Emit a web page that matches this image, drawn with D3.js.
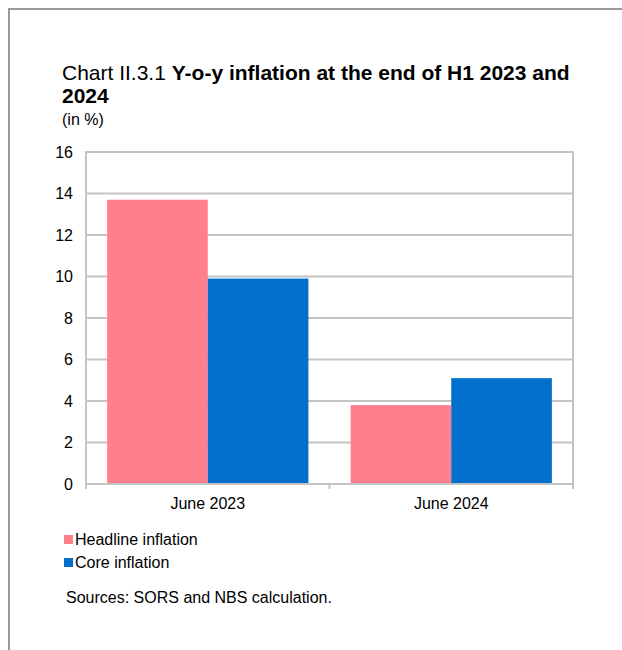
<!DOCTYPE html>
<html>
<head>
<meta charset="utf-8">
<script src="https://cdn.jsdelivr.net/npm/d3@7"></script>
<style>
  html, body { margin: 0; padding: 0; background: #fff; }
  svg { display: block; font-family: "Liberation Sans", Arial, sans-serif; }
</style>
</head>
<body>
<svg id="chart" width="622" height="650"></svg>
<script>
// Y-o-y inflation at the end of H1, by measure
const categories = ["June 2023", "June 2024"];
const seriesNames = ["Headline inflation", "Core inflation"];
const headline = [13.7, 3.8];
const core = [9.9, 5.1];
const yTicks = [0, 2, 4, 6, 8, 10, 12, 14, 16];
const colors = ["#ff7f8c", "#0070cc"];

const svg = d3.select("#chart");

// page frame
svg.append("path")
  .attr("d", "M9,650 V9 H622")
  .attr("fill", "none")
  .attr("stroke", "#9a9a9a")
  .attr("stroke-width", 2);

// title block
const title = svg.append("text").attr("x", 62).attr("y", 80)
  .attr("font-size", 21).attr("fill", "#000");
title.append("tspan").text("Chart II.3.1 ");
title.append("tspan").attr("font-weight", "bold").text("Y-o-y inflation at the end of H1 2023 and");
svg.append("text").attr("x", 62).attr("y", 103)
  .attr("font-size", 21).attr("font-weight", "bold").text("2024");
svg.append("text").attr("x", 62).attr("y", 125)
  .attr("font-size", 16).text("(in %)");

const plot = { left: 86, right: 573, top: 152, bottom: 484 };

const x0 = d3.scaleBand().domain(categories)
  .range([plot.left, plot.right]).paddingInner(0).paddingOuter(0);
const x1 = d3.scaleBand().domain(seriesNames)
  .range([0, x0.bandwidth()]).paddingInner(0).paddingOuter(0.21);
const y = d3.scaleLinear().domain([0, 16]).range([plot.bottom, plot.top]);

const gridColor = "#c4c4c4";

// horizontal gridlines
svg.append("g").selectAll("line").data(yTicks.filter(d => d > 0)).join("line")
  .attr("x1", plot.left).attr("x2", plot.right)
  .attr("y1", d => y(d)).attr("y2", d => y(d))
  .attr("stroke", gridColor).attr("stroke-width", 2);

// right border of plot
svg.append("line")
  .attr("x1", plot.right).attr("x2", plot.right)
  .attr("y1", plot.top - 1).attr("y2", plot.bottom + 5)
  .attr("stroke", gridColor).attr("stroke-width", 2);

// bars
const data = categories.map((c, i) => ({ cat: c, values: [headline[i], core[i]] }));
svg.append("g").selectAll("g").data(data).join("g")
  .attr("transform", d => `translate(${x0(d.cat)},0)`)
  .selectAll("rect").data(d => d.values.map((v, j) => ({ key: seriesNames[j], v, j })))
  .join("rect")
  .attr("x", d => x1(d.key))
  .attr("width", x1.bandwidth())
  .attr("y", d => y(d.v))
  .attr("height", d => y(0) - y(d.v))
  .attr("fill", d => colors[d.j]);

// y axis
const yAxis = svg.append("g").attr("transform", `translate(${plot.left},0)`)
  .call(d3.axisLeft(y).tickValues(yTicks).tickSize(0).tickPadding(13).tickFormat(d3.format("d")));
yAxis.select(".domain").attr("stroke", gridColor).attr("stroke-width", 2)
  .attr("d", `M0,${plot.top - 1}V${plot.bottom}`);
yAxis.selectAll("text").attr("font-size", 16).attr("fill", "#000")
  .attr("font-family", "Liberation Sans, Arial, sans-serif");

// x axis with tick marks at category boundaries
const xAxis = svg.append("g").attr("transform", `translate(0,${plot.bottom})`);
xAxis.append("line").attr("x1", plot.left - 1).attr("x2", plot.right + 1)
  .attr("y1", 0).attr("y2", 0).attr("stroke", gridColor).attr("stroke-width", 2);
const bounds = categories.map(c => x0(c)).concat([x0(categories[categories.length - 1]) + x0.bandwidth()]);
xAxis.selectAll("line.tick").data(bounds).join("line").attr("class", "tick")
  .attr("x1", d => d).attr("x2", d => d).attr("y1", 0).attr("y2", 5)
  .attr("stroke", gridColor).attr("stroke-width", 2);
xAxis.selectAll("text").data(categories).join("text")
  .attr("x", d => x0(d) + x0.bandwidth() / 2).attr("y", 25)
  .attr("text-anchor", "middle").attr("font-size", 16).text(d => d);

// legend
const legend = svg.append("g").attr("transform", "translate(64,535)");
seriesNames.forEach((name, i) => {
  const g = legend.append("g").attr("transform", `translate(0,${i * 23})`);
  g.append("rect").attr("width", 9).attr("height", 9).attr("fill", colors[i]);
  g.append("text").attr("x", 11).attr("y", 10).attr("font-size", 16).text(name);
});

// source note
svg.append("text").attr("x", 66).attr("y", 603).attr("font-size", 16)
  .text("Sources: SORS and NBS calculation.");
</script>
</body>
</html>
